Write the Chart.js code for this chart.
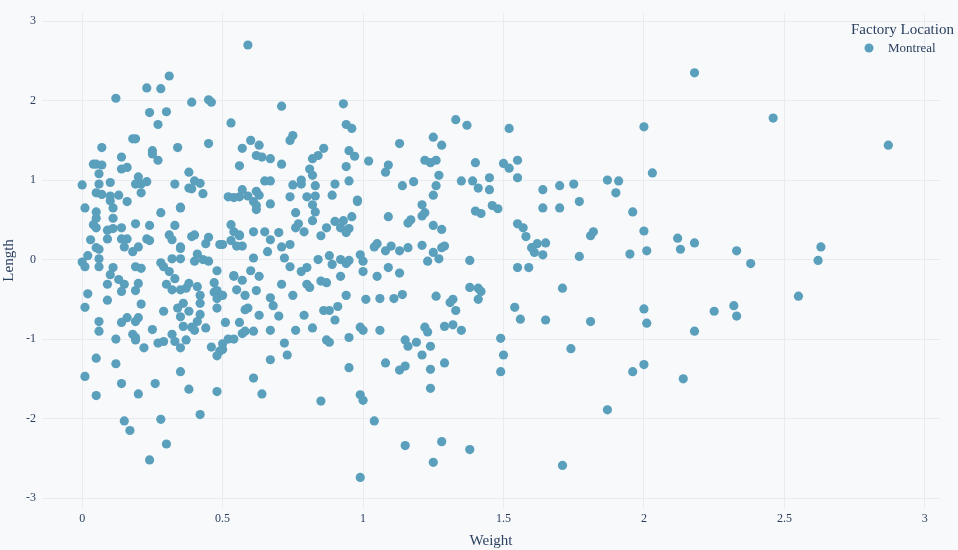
<!DOCTYPE html>
<html>
<head>
<meta charset="utf-8">
<script src="https://cdn.jsdelivr.net/npm/chart.js@4/dist/chart.umd.min.js"></script>
<style>
  html, body { margin: 0; padding: 0; background: #f8f9fb; }
  #wrap { width: 958px; height: 550px; }
</style>
</head>
<body>
<div id="wrap"><canvas id="chart"></canvas></div>
<script>
// ------------------------------------------------------
// Datos
// ------------------------------------------------------
const seriesName = "Montreal";
const legendTitle = "Factory Location";
const xTicks = [0, 0.5, 1, 1.5, 2, 2.5, 3];
const yTicks = [-3, -2, -1, 0, 1, 2, 3];

const weight = [
  2.18, 2.46, 2.87, 2.00, 2.03, 1.87, 1.91, 1.90, 1.96, 2.00, 2.01, 1.95, 2.12, 2.18, 2.13, 2.33, 2.38, 2.63, 2.62, 2.55,
  2.25, 2.32, 2.33, 2.18, 2.00, 2.01, 2.00, 1.96, 2.14, 1.87, 1.71,
  1.52, 1.55, 1.50, 1.52, 1.55, 1.64, 1.70, 1.75, 1.77, 1.70, 1.64, 1.55, 1.57, 1.58, 1.62, 1.65, 1.60, 1.61, 1.64,
  1.59, 1.55, 1.77, 1.81, 1.82, 1.71, 1.54, 1.56, 1.65, 1.81, 1.49, 1.50, 1.49, 1.74,
  1.33, 1.37, 1.25, 1.28, 1.13, 1.22, 1.24, 1.26, 1.40, 1.09, 1.02, 1.08, 1.27, 1.35, 1.39, 1.45, 1.41, 1.45, 1.26, 1.14,
  1.18, 1.25, 1.21, 1.22, 1.21, 1.17, 1.16, 1.09, 0.98, 1.40, 1.42, 1.46, 1.48, 1.28, 1.25, 1.05, 1.04, 0.99, 1.00, 1.08,
  1.10, 1.13, 1.16, 1.21, 1.25, 1.23, 1.28, 1.29, 1.27, 1.13, 1.09, 1.05, 1.00, 1.38, 1.14, 1.06, 1.01, 1.11, 1.26, 1.32,
  1.31, 1.33, 1.41, 1.42, 1.41, 1.38, 1.32, 1.29, 1.22, 1.23, 1.35, 1.06, 0.99, 1.00, 1.15, 1.16, 1.19, 1.24, 1.21, 1.15,
  1.13, 1.08, 1.24, 1.29, 1.24, 0.99, 1.04, 1.15, 1.38, 1.28, 1.25, 0.99, 1.00,
  0.59, 0.71, 0.93, 0.53, 0.75, 0.74, 0.60, 0.94, 0.96, 0.63, 0.57, 0.62, 0.64, 0.67, 0.86, 0.84, 0.82, 0.95, 0.97, 0.71,
  0.94, 0.81, 0.82, 0.78, 0.75, 0.78, 0.90, 0.95, 0.83, 0.65, 0.67, 0.57, 0.62, 0.63, 0.56, 0.52, 0.62, 0.67, 0.74, 0.80,
  0.83, 0.89, 0.98, 0.82, 0.83, 0.76, 0.82, 0.90, 0.93, 0.92, 0.95, 0.96, 0.87, 0.76, 0.77, 0.79, 0.85, 0.94, 0.70, 0.65,
  0.67, 0.61, 0.56, 0.54, 0.53, 0.50, 0.57, 0.71, 0.66, 0.74, 0.72, 0.61, 0.88, 0.84, 0.92, 0.89, 0.94, 0.95, 0.80, 0.74,
  0.78, 0.60, 0.63, 0.54, 0.57, 0.92, 0.85, 0.87, 0.80, 0.81, 0.71, 0.75, 0.67, 0.62, 0.58, 0.59, 0.63, 0.68, 0.70, 0.79,
  0.86, 0.88, 0.90, 0.94, 0.91, 0.82, 0.87, 0.88, 0.95, 0.56, 0.51, 0.61, 0.67, 0.76, 0.72, 0.73, 0.67, 0.52, 0.50, 0.95,
  0.61, 0.64, 0.85,
  0.31, 0.23, 0.28, 0.12, 0.39, 0.45, 0.46, 0.24, 0.30, 0.27, 0.18, 0.19, 0.07, 0.34, 0.45, 0.25, 0.25, 0.14, 0.27, 0.04,
  0.05, 0.07, 0.14, 0.16, 0.06, 0.20, 0.38, 0.56, 0.00, 0.06, 0.10, 0.19, 0.21, 0.23, 0.33, 0.38, 0.39, 0.40, 0.42, 0.43,
  0.05, 0.07, 0.10, 0.10, 0.13, 0.21, 0.16, 0.01, 0.11, 0.05, 0.05, 0.11, 0.28, 0.35, 0.35, 0.54, 0.59, 0.61, 0.62, 0.04,
  0.05, 0.09, 0.11, 0.14, 0.19, 0.24, 0.33, 0.03, 0.09, 0.14, 0.16, 0.15, 0.05, 0.06, 0.20, 0.23, 0.24, 0.31, 0.32, 0.39,
  0.40, 0.35, 0.35, 0.44, 0.45, 0.41, 0.49, 0.53, 0.56, 0.55, 0.02, 0.18,
  0.00, 0.01, 0.06, 0.06, 0.11, 0.10, 0.13, 0.19, 0.21, 0.09, 0.15, 0.20, 0.14, 0.19, 0.02, 0.09, 0.01, 0.21, 0.28, 0.29,
  0.32, 0.35, 0.31, 0.33, 0.30, 0.32, 0.35, 0.37, 0.38, 0.41, 0.40, 0.43, 0.45, 0.48, 0.47, 0.47, 0.48, 0.42, 0.42, 0.36,
  0.34, 0.38, 0.48, 0.50, 0.48, 0.29, 0.35, 0.42, 0.41, 0.36, 0.39, 0.40, 0.44, 0.06, 0.06, 0.14, 0.16, 0.19, 0.20, 0.25,
  0.18, 0.19, 0.19, 0.12, 0.22, 0.27, 0.29, 0.32, 0.33, 0.37, 0.35, 0.46, 0.50, 0.49, 0.48, 0.54, 0.05, 0.12, 0.01, 0.14,
  0.05, 0.20, 0.26, 0.35, 0.38, 0.48, 0.42, 0.15, 0.17, 0.28, 0.30, 0.24, 0.55, 0.58, 0.57, 0.58, 0.54
];

const length = [
  2.35, 1.78, 1.44, 1.67, 1.09, 1.00, 0.99, 0.84, 0.60, 0.36, 0.11, 0.07, 0.27, 0.21, 0.13, 0.11, -0.05, 0.16, -0.01, -0.46,
  -0.65, -0.58, -0.71, -0.90, -0.62, -0.80, -1.32, -1.41, -1.50, -1.89, -2.59,
  1.65, 1.25, 1.21, 1.15, 1.03, 0.88, 0.93, 0.95, 0.73, 0.65, 0.65, 0.45, 0.40, 0.29, 0.20, 0.21, 0.15, 0.09, 0.06,
  -0.10, -0.10, 0.04, 0.30, 0.35, -0.36, -0.60, -0.75, -0.76, -0.78, -0.99, -1.20, -1.41, -1.12,
  1.76, 1.69, 1.54, 1.44, 1.46, 1.25, 1.22, 1.25, 1.22, 1.19, 1.24, 1.10, 1.06, 0.99, 0.99, 1.03, 0.90, 0.88, 0.93, 0.93,
  0.98, 0.81, 0.69, 0.59, 0.55, 0.50, 0.46, 0.54, 0.73, 0.61, 0.58, 0.68, 0.64, 0.38, 0.43, 0.20, 0.16, 0.06, -0.02, 0.11,
  0.17, 0.11, 0.15, 0.18, 0.09, -0.02, 0.15, 0.17, 0.01, -0.17, -0.10, -0.21, -0.15, -0.01, -0.44, -0.49, -0.50, -0.49, -0.46, -0.50,
  -0.54, -0.64, -0.36, -0.40, -0.50, -0.35, -0.82, -0.84, -0.85, -0.91, -0.89, -0.89, -0.85, -0.89, -1.01, -1.09, -1.04, -1.09, -1.20, -1.34,
  -1.39, -1.30, -1.38, -1.30, -1.62, -1.70, -2.03, -2.34, -2.39, -2.29, -2.55, -2.74, -1.77,
  2.70, 1.93, 1.96, 1.72, 1.56, 1.50, 1.50, 1.70, 1.65, 1.44, 1.40, 1.31, 1.29, 1.27, 1.40, 1.31, 1.27, 1.37, 1.30, 1.20,
  1.17, 1.14, 1.06, 1.00, 0.94, 0.95, 0.95, 0.99, 0.93, 0.99, 0.99, 0.88, 0.86, 0.81, 0.79, 0.79, 0.68, 0.70, 0.79, 0.79,
  0.80, 0.81, 0.75, 0.69, 0.60, 0.59, 0.49, 0.48, 0.49, 0.40, 0.39, 0.54, 0.40, 0.40, 0.45, 0.35, 0.30, 0.34, 0.34, 0.35,
  0.25, 0.35, 0.31, 0.35, 0.24, 0.19, 0.17, 0.16, 0.10, 0.19, 0.02, 0.02, 0.05, 0.00, 0.00, -0.06, -0.05, -0.01, -0.10, -0.09,
  -0.15, -0.14, -0.21, -0.21, -0.26, -0.21, -0.27, -0.29, -0.31, -0.35, -0.31, -0.45, -0.48, -0.39, -0.45, -0.61, -0.70, -0.58, -0.71, -0.70,
  -0.64, -0.64, -0.76, -0.45, -0.59, -0.86, -1.01, -1.04, -0.98, -0.79, -0.79, -0.90, -0.89, -0.89, -1.05, -1.20, -1.26, -1.00, -1.13, -1.36,
  -1.49, -1.69, -1.78,
  2.31, 2.16, 2.15, 2.03, 1.98, 2.01, 1.98, 1.85, 1.86, 1.70, 1.52, 1.52, 1.41, 1.41, 1.46, 1.37, 1.33, 1.29, 1.25, 1.20,
  1.20, 1.19, 1.14, 1.16, 1.08, 1.04, 1.10, 1.18, 0.94, 0.95, 0.97, 0.95, 0.95, 0.98, 0.95, 0.90, 0.89, 0.99, 0.96, 0.83,
  0.84, 0.82, 0.80, 0.74, 0.81, 0.84, 0.73, 0.65, 0.65, 0.60, 0.52, 0.52, 0.59, 0.65, 0.66, 0.78, 0.80, 0.73, 0.63, 0.44,
  0.40, 0.37, 0.39, 0.40, 0.45, 0.43, 0.43, 0.25, 0.26, 0.26, 0.26, 0.16, 0.15, 0.13, 0.16, 0.26, 0.24, 0.31, 0.25, 0.29,
  0.31, 0.16, 0.14, 0.20, 0.28, 0.07, 0.19, 0.44, 0.30, 0.17, 0.05, 0.10,
  -0.03, -0.09, 0.01, -0.09, -0.10, -0.19, -0.25, -0.09, -0.11, -0.31, -0.31, -0.30, -0.40, -0.39, -0.43, -0.51, -0.60, -0.56, -0.04, -0.09,
  0.01, 0.01, -0.15, -0.24, -0.31, -0.38, -0.38, -0.36, -0.30, -0.34, -0.02, 0.00, -0.02, -0.14, -0.29, -0.41, -0.39, -0.45, -0.55, -0.55,
  -0.61, -0.65, -0.49, -0.45, -0.61, -0.65, -0.72, -0.69, -0.78, -0.84, -0.85, -0.89, -0.86, -0.78, -0.90, -0.79, -0.73, -0.78, -0.73, -0.88,
  -0.94, -0.98, -1.01, -1.00, -1.11, -1.05, -1.03, -0.94, -1.03, -1.01, -1.11, -1.10, -1.06, -1.15, -1.21, -1.00, -1.24, -1.31, -1.47, -1.56,
  -1.71, -1.69, -1.56, -1.41, -1.63, -1.66, -1.95, -2.03, -2.15, -2.01, -2.32, -2.52, -0.38, -0.63, -0.93, -0.90, -0.20
];

const puntos = weight.map((w, i) => ({ x: w, y: length[i] }));

const FONT = "'Liberation Serif', 'DejaVu Serif', serif";
const TXT = "#2a3f5f";

// leyenda dibujada a mano (arriba a la derecha)
const leyenda = {
  id: "leyenda",
  afterDraw(chart) {
    const c = chart.ctx;
    c.save();
    c.font = "15px " + FONT;
    c.fillStyle = TXT;
    c.textAlign = "left";
    c.textBaseline = "middle";
    c.fillText(legendTitle, 851, 30);
    c.beginPath();
    c.arc(869, 48, 4.5, 0, Math.PI * 2);
    c.fillStyle = "#5a9fbc";
    c.fill();
    c.font = "13px " + FONT;
    c.fillStyle = TXT;
    c.fillText(seriesName, 888, 49);
    c.restore();
  },
};

new Chart(document.getElementById("chart"), {
  type: "scatter",
  data: {
    datasets: [
      {
        label: seriesName,
        data: puntos,
        backgroundColor: "#5a9fbc",
        borderWidth: 0,
        pointRadius: 4.6,
      },
    ],
  },
  options: {
    responsive: true,
    maintainAspectRatio: false,
    animation: false,
    layout: { padding: { left: 0, right: 18, top: 4, bottom: 0 } },
    plugins: { legend: { display: false }, tooltip: { enabled: false } },
    scales: {
      x: {
        type: "linear",
        min: -0.143,
        max: 3.054,
        afterBuildTicks: (s) => { s.ticks = xTicks.map((v) => ({ value: v })); },
        ticks: { color: TXT, font: { family: FONT, size: 12 }, padding: 4, callback: (v) => String(v) },
        grid: { color: "#e8ebf0", drawTicks: false },
        border: { display: false },
        title: { display: true, text: "Weight", color: TXT, font: { family: FONT, size: 15 }, padding: { top: 2, bottom: 0 } },
      },
      y: {
        type: "linear",
        min: -3.12,
        max: 3.1,
        afterBuildTicks: (s) => { s.ticks = yTicks.map((v) => ({ value: v })); },
        ticks: { color: TXT, font: { family: FONT, size: 12 }, padding: 6, callback: (v) => String(v) },
        grid: { color: "#e8ebf0", drawTicks: false },
        border: { display: false },
        title: { display: true, text: "Length", color: TXT, font: { family: FONT, size: 15 }, padding: { top: 0, bottom: 2 } },
      },
    },
  },
  plugins: [leyenda],
});
</script>
</body>
</html>
